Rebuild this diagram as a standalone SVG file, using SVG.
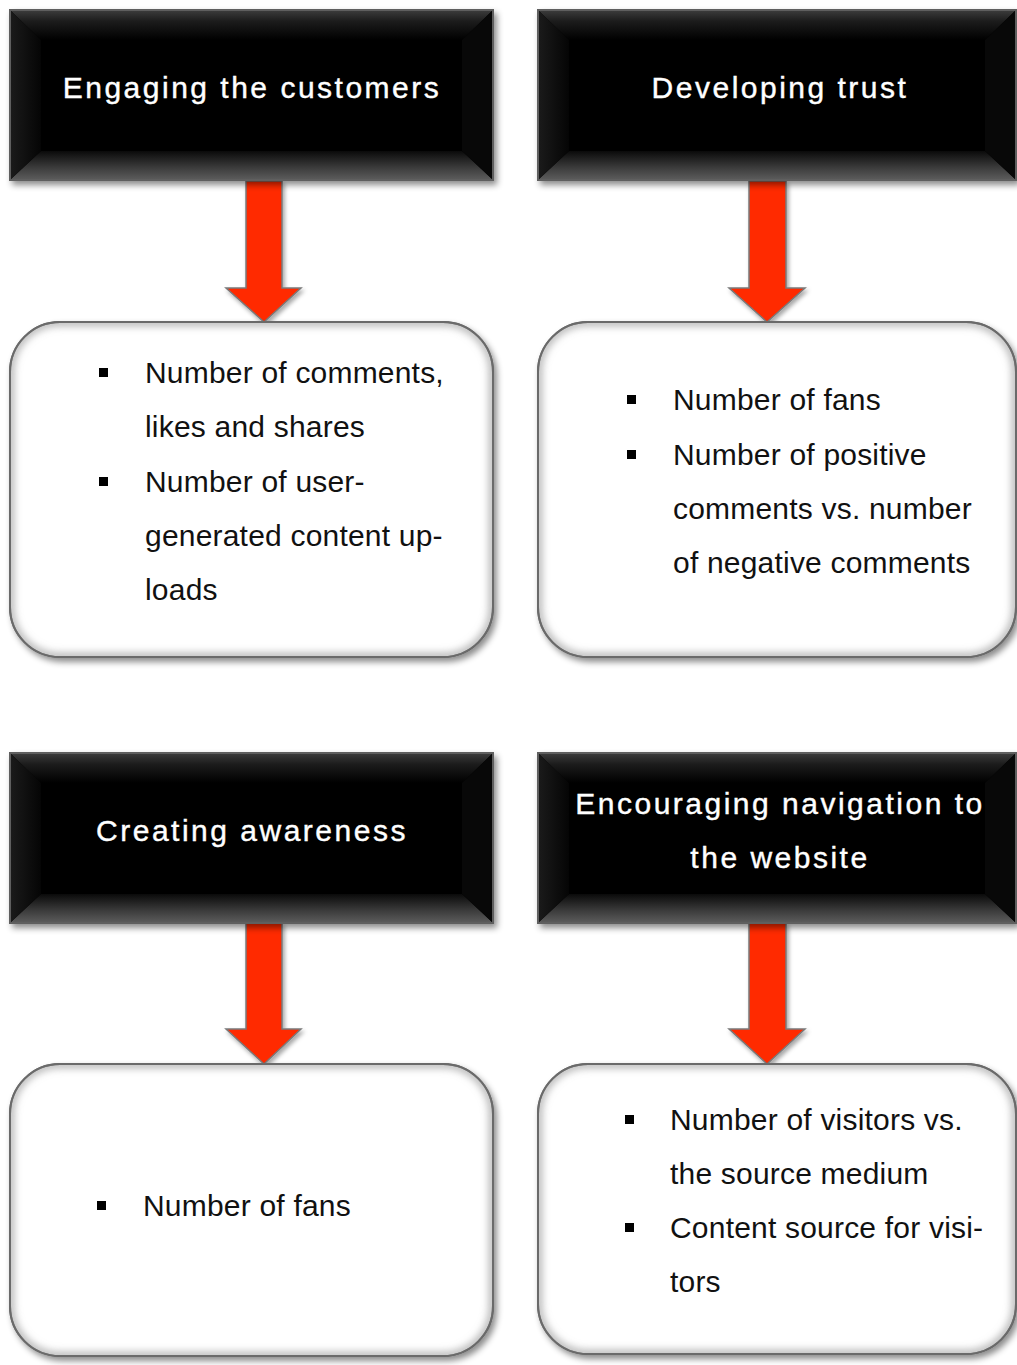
<svg xmlns="http://www.w3.org/2000/svg" width="1017" height="1365" viewBox="0 0 1017 1365">
<defs>
<linearGradient id="bevTop" x1="0" y1="0" x2="0" y2="1">
<stop offset="0" stop-color="#3a3a3a"/><stop offset="0.35" stop-color="#1c1c1c"/><stop offset="1" stop-color="#000"/>
</linearGradient>
<linearGradient id="bevBot" x1="0" y1="0" x2="0" y2="1">
<stop offset="0" stop-color="#0a0a0a"/><stop offset="0.6" stop-color="#3c3c3c"/><stop offset="1" stop-color="#5a5a5a"/>
</linearGradient>
<linearGradient id="bevSide" x1="0" y1="0" x2="1" y2="0">
<stop offset="0" stop-color="#1a1a1a"/><stop offset="1" stop-color="#050505"/>
</linearGradient>
<filter id="sh" x="-5%" y="-5%" width="115%" height="120%">
<feDropShadow dx="3" dy="4" stdDeviation="3" flood-color="#000" flood-opacity="0.45"/>
</filter>
<filter id="shA" x="-20%" y="-10%" width="150%" height="130%">
<feDropShadow dx="2" dy="3" stdDeviation="2" flood-color="#000" flood-opacity="0.35"/>
</filter>
<filter id="inner" x="-5%" y="-5%" width="110%" height="110%">
<feGaussianBlur stdDeviation="4"/>
</filter>
<clipPath id="cTL"><rect x="10" y="322" width="483" height="335" rx="50"/></clipPath>
<clipPath id="cTR"><rect x="538" y="322" width="478" height="335" rx="50"/></clipPath>
<clipPath id="cBL"><rect x="10" y="1064" width="483" height="292" rx="50"/></clipPath>
<clipPath id="cBR"><rect x="538" y="1064" width="478" height="290" rx="50"/></clipPath>
</defs>
<style>
.hdr-out{fill:#000;stroke:#5e5e5e;stroke-width:2}
.htxt{font-family:"Liberation Sans",Arial,sans-serif;font-size:30px;fill:#fff;stroke:#fff;stroke-width:0.4;letter-spacing:2.5px;text-anchor:middle}
.btxt{font-family:"Liberation Sans",Arial,sans-serif;font-size:30px;fill:#111;letter-spacing:0.2px}
.box{fill:#fff;stroke:#6a6a6a;stroke-width:2}
.innerEdge{fill:none;stroke:#9a9a9a;stroke-width:6}
.arrow{fill:#ff2a00;stroke:#7a7a7a;stroke-width:1.5}
.bul{fill:#000}
</style>

<g id="connectors">
<polygon class="arrow" filter="url(#shA)" points="246,181 282,181 282,288 301,288 264,322 226,288 246,288"/>
<polygon class="arrow" filter="url(#shA)" points="749,181 786,181 786,288 805,288 767,322 729,288 749,288"/>
<polygon class="arrow" filter="url(#shA)" points="246,923 282,923 282,1029 301,1029 264,1064 226,1029 246,1029"/>
<polygon class="arrow" filter="url(#shA)" points="749,923 786,923 786,1029 805,1029 767,1064 729,1029 749,1029"/>
</g>

<g id="hdr-engaging">
<rect class="hdr-out" x="10" y="10" width="483" height="170" filter="url(#sh)"/>
<polygon fill="url(#bevTop)" points="11,11 492,11 462,40 41,40"/>
<polygon fill="url(#bevBot)" points="41,151 462,151 492,179 11,179"/>
<polygon fill="url(#bevSide)" points="11,11 41,40 41,151 11,179"/>
<polygon fill="#080808" points="492,11 462,40 462,151 492,179"/>
<text class="htxt" x="252" y="98">Engaging the customers</text>
</g>

<g id="hdr-trust">
<rect class="hdr-out" x="538" y="10" width="478" height="170" filter="url(#sh)"/>
<polygon fill="url(#bevTop)" points="539,11 1015,11 985,40 569,40"/>
<polygon fill="url(#bevBot)" points="569,151 985,151 1015,179 539,179"/>
<polygon fill="url(#bevSide)" points="539,11 569,40 569,151 539,179"/>
<polygon fill="#080808" points="1015,11 985,40 985,151 1015,179"/>
<text class="htxt" x="780" y="98">Developing trust</text>
</g>

<g id="hdr-awareness">
<rect class="hdr-out" x="10" y="753" width="483" height="170" filter="url(#sh)"/>
<polygon fill="url(#bevTop)" points="11,754 492,754 462,783 41,783"/>
<polygon fill="url(#bevBot)" points="41,894 462,894 492,922 11,922"/>
<polygon fill="url(#bevSide)" points="11,754 41,783 41,894 11,922"/>
<polygon fill="#080808" points="492,754 462,783 462,894 492,922"/>
<text class="htxt" x="252" y="841">Creating awareness</text>
</g>

<g id="hdr-navigation">
<rect class="hdr-out" x="538" y="753" width="478" height="170" filter="url(#sh)"/>
<polygon fill="url(#bevTop)" points="539,754 1015,754 985,783 569,783"/>
<polygon fill="url(#bevBot)" points="569,894 985,894 1015,922 539,922"/>
<polygon fill="url(#bevSide)" points="539,754 569,783 569,894 539,922"/>
<polygon fill="#080808" points="1015,754 985,783 985,894 1015,922"/>
<text class="htxt" x="780" y="814">Encouraging navigation to</text>
<text class="htxt" x="780" y="868">the website</text>
</g>

<g id="box-engaging">
<rect class="box" x="10" y="322" width="483" height="335" rx="50" filter="url(#sh)"/>
<rect class="innerEdge" x="10" y="322" width="483" height="335" rx="50" clip-path="url(#cTL)" filter="url(#inner)"/>
<rect class="box" x="10" y="322" width="483" height="335" rx="50" style="fill:none"/>
<rect class="bul" x="99" y="368" width="9" height="9"/>
<text class="btxt" x="145" y="383">Number of comments,</text>
<text class="btxt" x="145" y="437">likes and shares</text>
<rect class="bul" x="99" y="477" width="9" height="9"/>
<text class="btxt" x="145" y="492">Number of user-</text>
<text class="btxt" x="145" y="546">generated content up-</text>
<text class="btxt" x="145" y="600">loads</text>
</g>

<g id="box-trust">
<rect class="box" x="538" y="322" width="478" height="335" rx="50" filter="url(#sh)"/>
<rect class="innerEdge" x="538" y="322" width="478" height="335" rx="50" clip-path="url(#cTR)" filter="url(#inner)"/>
<rect class="box" x="538" y="322" width="478" height="335" rx="50" style="fill:none"/>
<rect class="bul" x="627" y="395" width="9" height="9"/>
<text class="btxt" x="673" y="410">Number of fans</text>
<rect class="bul" x="627" y="450" width="9" height="9"/>
<text class="btxt" x="673" y="465">Number of positive</text>
<text class="btxt" x="673" y="519">comments vs. number</text>
<text class="btxt" x="673" y="573">of negative comments</text>
</g>

<g id="box-awareness">
<rect class="box" x="10" y="1064" width="483" height="292" rx="50" filter="url(#sh)"/>
<rect class="innerEdge" x="10" y="1064" width="483" height="292" rx="50" clip-path="url(#cBL)" filter="url(#inner)"/>
<rect class="box" x="10" y="1064" width="483" height="292" rx="50" style="fill:none"/>
<rect class="bul" x="97" y="1201" width="9" height="9"/>
<text class="btxt" x="143" y="1216">Number of fans</text>
</g>

<g id="box-navigation">
<rect class="box" x="538" y="1064" width="478" height="290" rx="50" filter="url(#sh)"/>
<rect class="innerEdge" x="538" y="1064" width="478" height="290" rx="50" clip-path="url(#cBR)" filter="url(#inner)"/>
<rect class="box" x="538" y="1064" width="478" height="290" rx="50" style="fill:none"/>
<rect class="bul" x="625" y="1115" width="9" height="9"/>
<text class="btxt" x="670" y="1130">Number of visitors vs.</text>
<text class="btxt" x="670" y="1184">the source medium</text>
<rect class="bul" x="625" y="1223" width="9" height="9"/>
<text class="btxt" x="670" y="1238">Content source for visi-</text>
<text class="btxt" x="670" y="1292">tors</text>
</g>
</svg>
